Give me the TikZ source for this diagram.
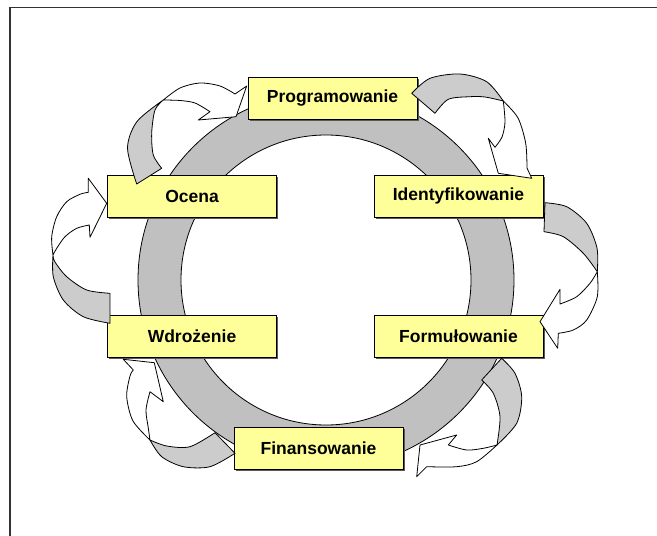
\documentclass[tikz,border=0pt]{standalone}
\usepackage{fontspec}
\setmainfont{Liberation Sans}
\usepackage{tikz}
\definecolor{boxyellow}{HTML}{FFFF99}
\definecolor{ringgray}{HTML}{C0C0C0}
\definecolor{arrgray}{HTML}{CCCCCC}
\tikzset{stage/.style = {draw=black, fill=boxyellow, line width=0.8pt, minimum width=169pt,
    minimum height=42pt, inner sep=0pt, font=\fontsize{17.5}{20}\selectfont\bfseries,
    preaction={fill=black!65, transform canvas={xshift=1.5pt, yshift=-1.5pt}}},
  arrback/.style = {draw=black, fill=arrgray, line width=0.8pt, line join=round},
  arrfront/.style = {draw=black, fill=white, line width=0.8pt, line join=round}}

\begin{document}
\begin{tikzpicture}[x=1pt, y=-1pt]
      \useasboundingbox (0,0) rectangle (657,536);
      \draw[line width=1.8pt, black!80] (10,536) -- (10,7.5) -- (657,7.5);
      % the ring
      \filldraw[fill=ringgray, draw=black, line width=0.8pt, even odd rule]
        (326,280) circle[radius=188pt] (326,280) circle[radius=145pt];
      % the six stages
      \node[stage] (prog)  at (332.5,98.5) {Programowanie};
      \node[stage] (ident) at (458.5,196)  {Identyfikowanie};
      \node[stage] (form)  at (458.5,336.5) {Formułowanie};
      \node[stage] (fin)   at (318.5,448)  {Finansowanie};
      \node[stage] (wdr)   at (192,336)    {Wdrożenie};
      \node[stage] (ocena) at (192,196)    {Ocena};
      % ocena -> prog
      \filldraw[arrback]
        plot[smooth] coordinates{(136.7,184) (127.5,148) (137,121.5) (163.3,100)}
        -- plot[smooth] coordinates{(163.3,100) (155,110) (151.7,133) (153.3,155) (161.7,168.3)}
        -- cycle;
      \filldraw[arrfront]
        plot[smooth] coordinates{(163.3,100) (180,88) (200,83) (220,86) (235,94)}
        -- (246.7,86) -- (236,116.7) -- (198.3,120)
        -- plot[smooth] coordinates{(210,111.7) (195,103) (180,100.5) (163.3,100)}
        -- cycle;
      % prog -> ident
      \filldraw[arrback]
        plot[smooth] coordinates{(411.7,93.3) (430,78.3) (460,74) (486.7,81.7) (503.3,101)}
        -- plot[smooth] coordinates{(503.3,101) (485,97) (470,96.7) (448.3,99.3) (435,113.3)}
        -- cycle;
      \filldraw[arrfront]
        plot[smooth] coordinates{(503.3,101) (518,118) (525.7,143.3) (527,168)}
        -- (531.7,178.3) -- (498.3,173.3) -- (488.3,138.3)
        -- plot[smooth] coordinates{(495,147.3) (502,137) (505,122) (503.3,101)}
        -- cycle;
      % ident -> form
      \filldraw[arrback]
        plot[smooth] coordinates{(545,202.7) (566.7,206.7) (586.7,223.3) (597,248) (597.3,271.7)}
        -- plot[smooth] coordinates{(597.3,271.7) (583.3,253.3) (563.3,236.7) (544,231.7)}
        -- cycle;
      \filldraw[arrfront]
        plot[smooth] coordinates{(597.3,271.7) (597.3,296.7) (586.7,320) (573.3,330) (558.3,333.3)}
        -- (557.7,348.3) -- (540,321.7) -- (560,289.3)
        -- plot[smooth] coordinates{(560,304) (576.7,296.7) (590,283.3) (597.3,271.7)}
        -- cycle;
      % form -> fin
      \filldraw[arrback]
        plot[smooth] coordinates{(501.7,358.3) (515,373.3) (521.7,396.7) (516.7,423.3) (497,445)}
        -- plot[smooth] coordinates{(497,445) (500,416.7) (493.3,393.3) (481.7,380)}
        -- cycle;
      \filldraw[arrfront]
        plot[smooth] coordinates{(497,445) (476.7,461.7) (456.7,466.7) (426.7,466.7)}
        -- (416.7,476.7) -- (420,445) -- (456.7,435)
        -- plot[smooth] coordinates{(448.3,445) (466.7,450) (483.3,448.3) (497,445)}
        -- cycle;
      % fin -> wdr
      \filldraw[arrback]
        plot[smooth] coordinates{(215,432.7) (190,446.7) (166.7,446) (150,440)}
        -- plot[smooth] coordinates{(150,440) (161.7,456.7) (183.3,466.7) (210,466.7) (235,453.3)}
        -- cycle;
      \filldraw[arrfront]
        plot[smooth] coordinates{(150,440) (133,421) (126.7,396.7) (130,376) (133.3,370)}
        -- (123.3,359.3) -- (154.3,362.7) -- (163.3,401.7)
        -- plot[smooth] coordinates{(150,391.7) (146,410) (148.3,428) (150,440)}
        -- cycle;
      % wdr -> ocena
      \filldraw[arrback]
        plot[smooth] coordinates{(110,293.3) (86.7,290) (66.7,276.7) (55,262) (53,255)}
        -- plot[smooth] coordinates{(53,255) (53.3,276.7) (63.3,300) (83.3,316.7) (110,323.3)}
        -- cycle;
      \filldraw[arrfront]
        plot[smooth] coordinates{(53,255) (51.7,236.7) (56.7,216.7) (66.7,201.7) (80,194.3) (88.3,192.3)}
        -- (88.3,178.3) -- (106.7,203.3) -- (90,237.3)
        -- plot[smooth] coordinates{(89.3,225) (76.7,228.3) (65,236.7) (56.7,248.3) (53,255)}
        -- cycle;
    \end{tikzpicture}
\end{document}
